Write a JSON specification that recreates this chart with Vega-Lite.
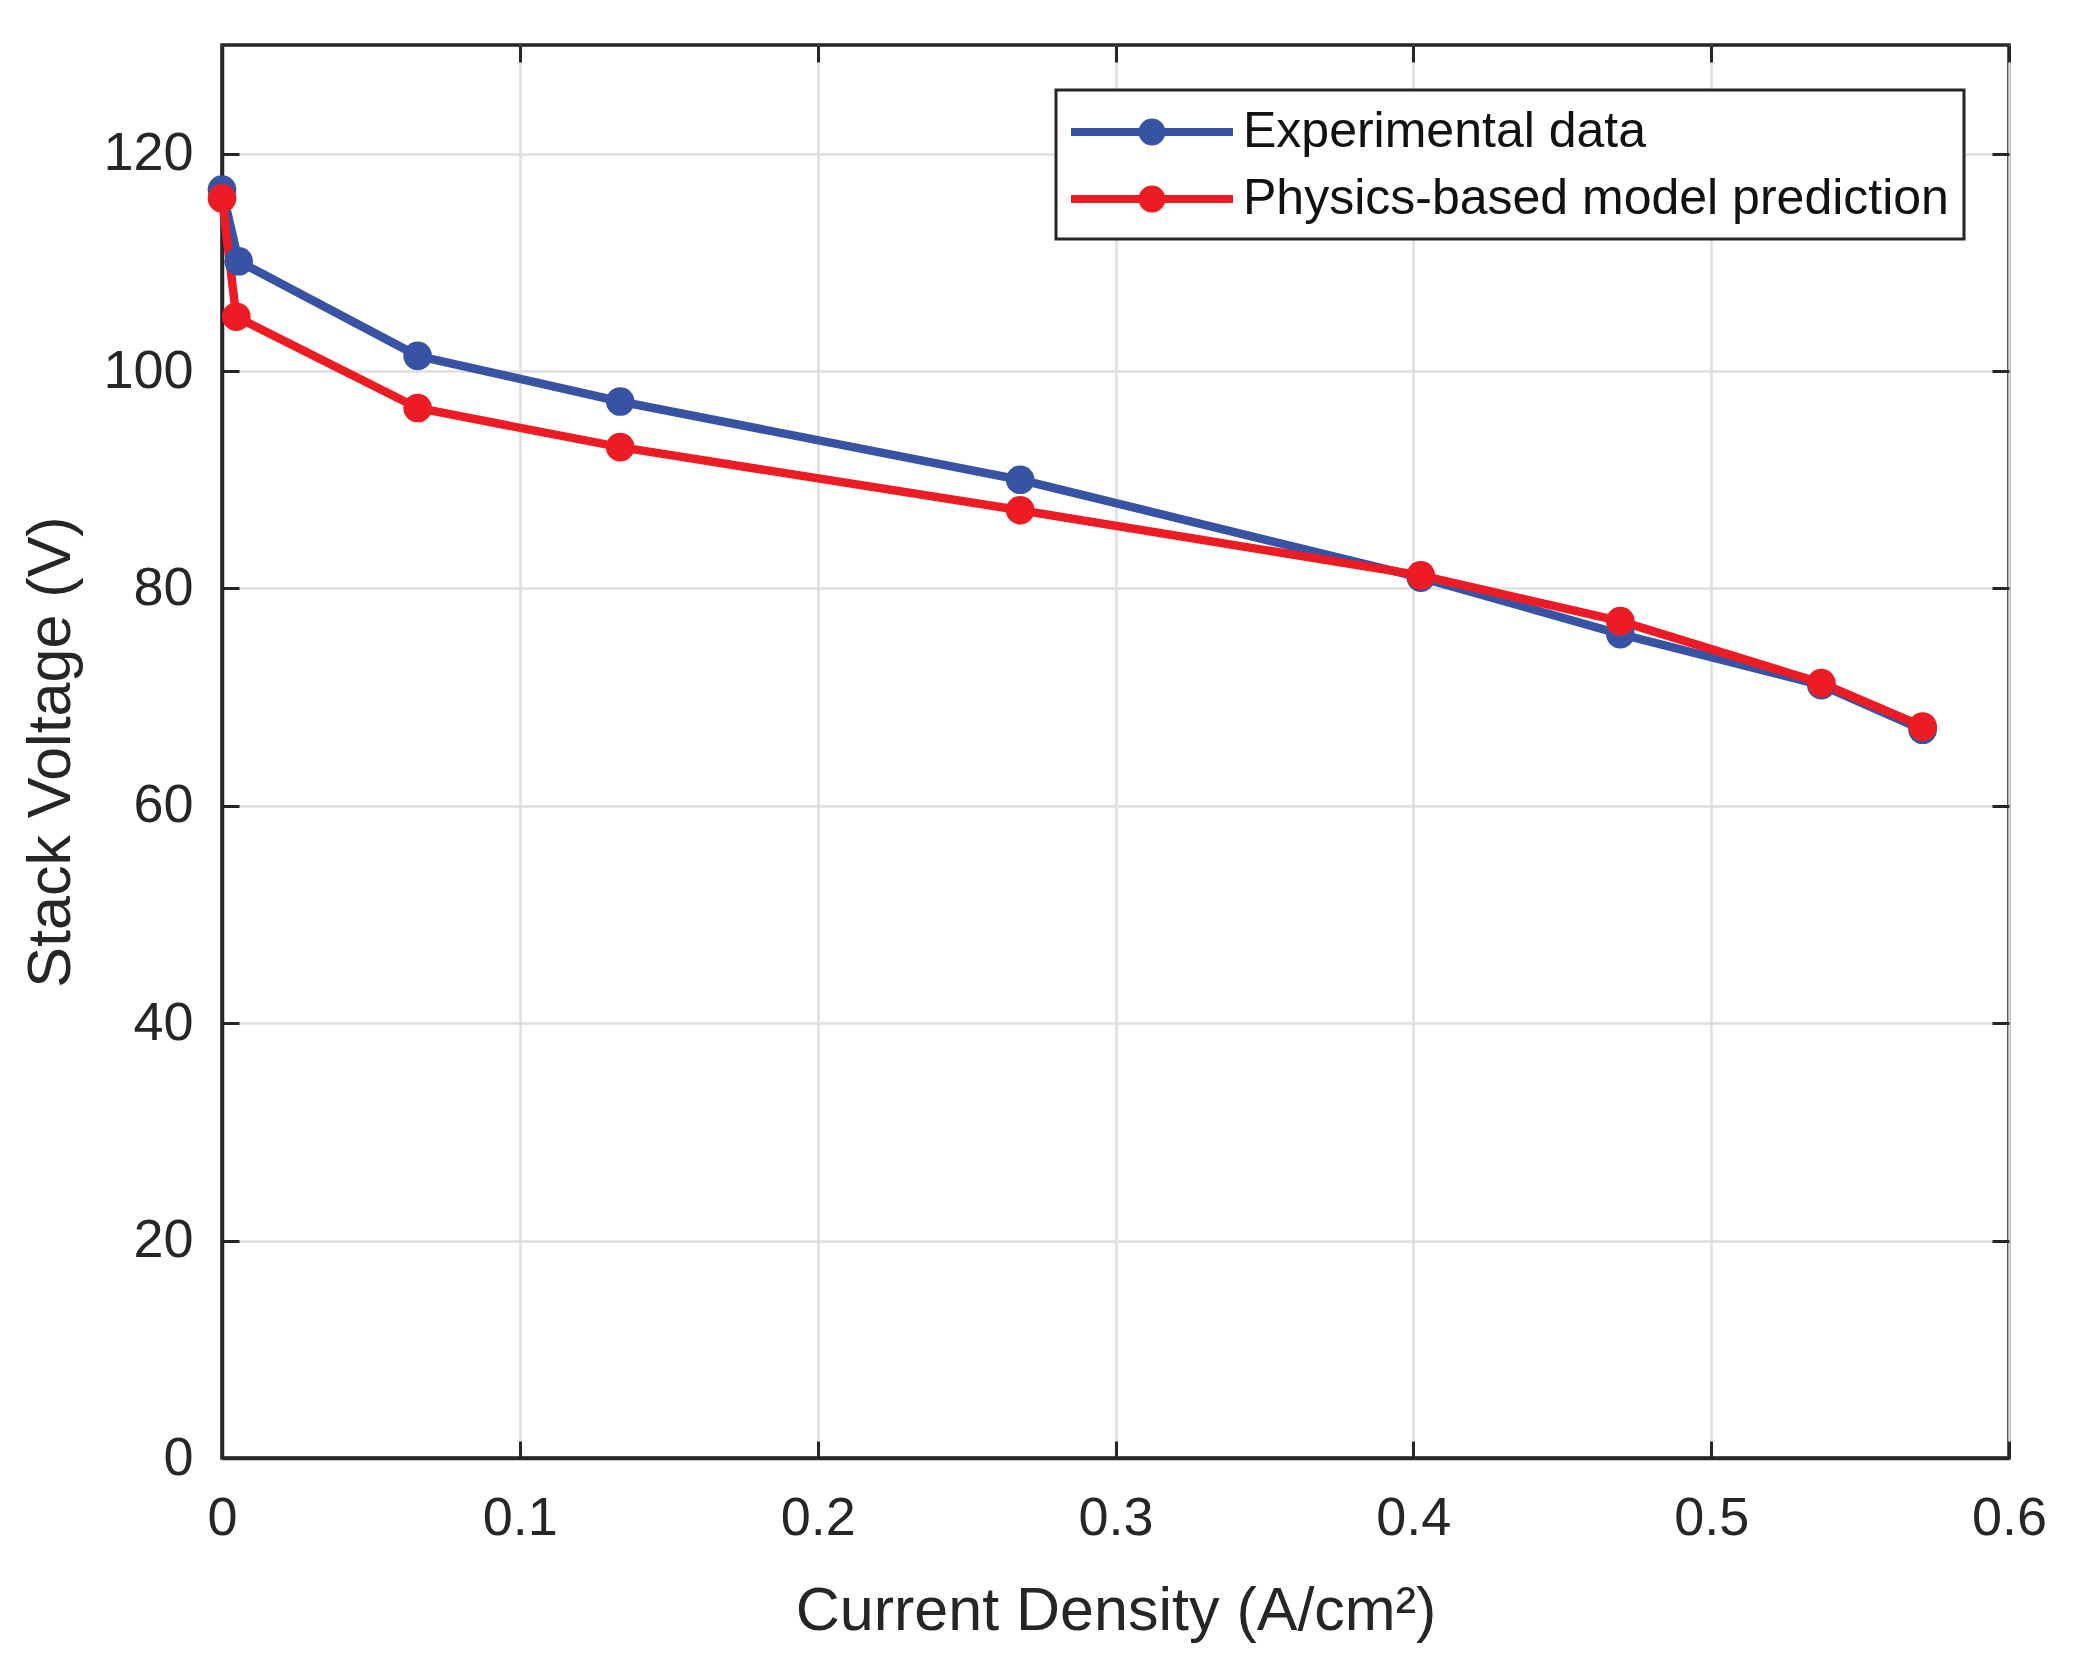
{
  "$schema": "https://vega.github.io/schema/vega-lite/v6.json",
  "autosize": {"type": "none"},
  "padding": {"left": 222, "top": 45, "right": 79, "bottom": 208},
  "width": 1787,
  "height": 1413,
  "background": "white",
  "config": {
    "font": "Liberation Sans",
    "view": {"stroke": "#262626", "strokeWidth": 3.5},
    "axis": {
      "labelFont": "Liberation Sans",
      "titleFont": "Liberation Sans",
      "labelColor": "#262626",
      "titleColor": "#262626",
      "labelFontSize": 54,
      "titleFontSize": 61,
      "titleFontWeight": "normal",
      "labelFlush": false,
      "labelOverlap": false,
      "domainColor": "#262626",
      "domainWidth": 3.5,
      "tickColor": "#262626",
      "tickWidth": 3,
      "tickSize": -17,
      "gridColor": "#dedede",
      "gridWidth": 2.5,
      "gridOpacity": 1
    }
  },
  "data": {
    "values": [
      {"x": 0.0, "v": 116.7, "s": "Experimental data"},
      {"x": 0.0056, "v": 110.1, "s": "Experimental data"},
      {"x": 0.0657, "v": 101.4, "s": "Experimental data"},
      {"x": 0.1337, "v": 97.2, "s": "Experimental data"},
      {"x": 0.268, "v": 90.0, "s": "Experimental data"},
      {"x": 0.4025, "v": 81.0, "s": "Experimental data"},
      {"x": 0.4695, "v": 75.8, "s": "Experimental data"},
      {"x": 0.537, "v": 71.1, "s": "Experimental data"},
      {"x": 0.571, "v": 67.0, "s": "Experimental data"},
      {"x": 0.0, "v": 115.9, "s": "Physics-based model prediction"},
      {"x": 0.0048, "v": 105.0, "s": "Physics-based model prediction"},
      {"x": 0.0657, "v": 96.6, "s": "Physics-based model prediction"},
      {"x": 0.1337, "v": 93.0, "s": "Physics-based model prediction"},
      {"x": 0.268, "v": 87.2, "s": "Physics-based model prediction"},
      {"x": 0.4025, "v": 81.2, "s": "Physics-based model prediction"},
      {"x": 0.4695, "v": 77.0, "s": "Physics-based model prediction"},
      {"x": 0.537, "v": 71.3, "s": "Physics-based model prediction"},
      {"x": 0.571, "v": 67.3, "s": "Physics-based model prediction"}
    ]
  },
  "resolve": {"axis": {"x": "independent", "y": "independent"}},
  "layer": [
    {
      "mark": {"type": "line", "strokeWidth": 8.5},
      "encoding": {
        "x": {
          "field": "x", "type": "quantitative",
          "scale": {"domain": [0, 0.6], "nice": false, "zero": false},
          "axis": {"title": "Current Density (A/cm²)", "values": [0, 0.1, 0.2, 0.3, 0.4, 0.5, 0.6], "format": "~g", "labelPadding": 50, "titlePadding": 36}
        },
        "y": {
          "field": "v", "type": "quantitative",
          "scale": {"domain": [0, 130], "nice": false, "zero": false},
          "axis": {"title": "Stack Voltage (V)", "values": [0, 20, 40, 60, 80, 100, 120], "labelPadding": 46, "titlePadding": 20}
        },
        "color": {
          "field": "s", "type": "nominal",
          "scale": {"domain": ["Experimental data", "Physics-based model prediction"], "range": ["#3953A4", "#ED1C24"]},
          "legend": {
            "title": null,
            "orient": "top-right",
            "offset": 45,
            "strokeColor": "#262626",
            "fillColor": "white",
            "padding": 15,
            "rowPadding": 15,
            "labelFont": "Liberation Sans",
            "labelFontSize": 50,
            "labelLimit": 1200,
            "labelColor": "#111111",
            "labelOffset": 118,
            "symbolSize": 2916,
            "symbolStrokeWidth": 0,
            "symbolType": "M-1,-0.15L5,-0.15L5,0.15L-1,0.15Z M2.5,0A0.5,0.5 0 1,1 1.5,0A0.5,0.5 0 1,1 2.5,0Z",
            "encode": {
              "legend": {"update": {"strokeWidth": {"value": 3}}},
              "symbols": {"update": {"fill": {"scale": "color", "field": "value"}, "strokeWidth": {"value": 0}, "opacity": {"value": 1}}}
            }
          }
        }
      }
    },
    {
      "mark": {"type": "point", "filled": true, "size": 820, "opacity": 1},
      "encoding": {
        "x": {"field": "x", "type": "quantitative", "axis": {"orient": "top", "labels": false, "title": null, "grid": false, "domain": false, "values": [0, 0.1, 0.2, 0.3, 0.4, 0.5, 0.6]}},
        "y": {"field": "v", "type": "quantitative", "axis": {"orient": "right", "labels": false, "title": null, "grid": false, "domain": false, "values": [0, 20, 40, 60, 80, 100, 120]}},
        "color": {"field": "s", "type": "nominal"}
      }
    }
  ]
}
